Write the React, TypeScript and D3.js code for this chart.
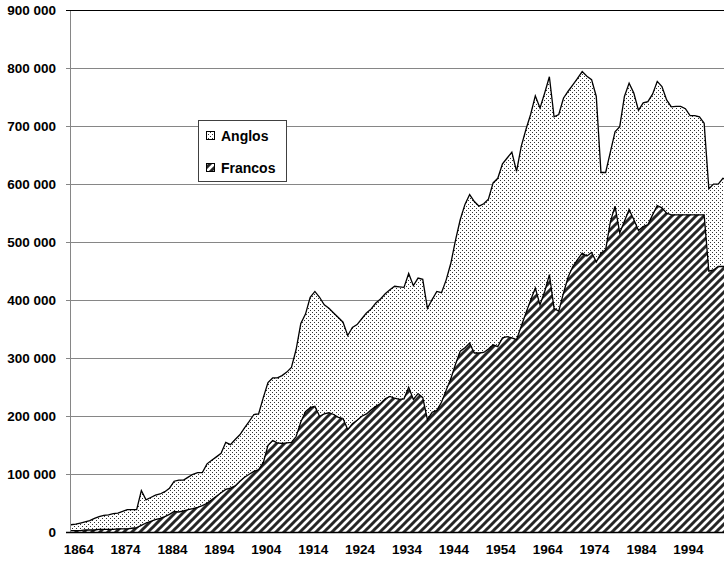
import React, { useEffect, useRef } from "react";
import * as d3 from "d3";

// first year of the series, one value per year after it
const firstYear = 1863;

// top line (thousands)
const anglos = [
  13, 14, 16, 18, 20, 24, 27, 29, 30, 32,
  33, 36, 39, 39, 39, 72, 56, 60, 64, 66,
  70, 76, 88, 90, 90, 95, 100, 103, 103, 118,
  124, 130, 136, 155, 151, 160, 168, 180, 191, 203,
  204, 232, 258, 266, 266, 270, 276, 284, 315, 360,
  376, 405, 415, 405, 392, 386, 378, 370, 362, 339,
  353, 358, 368, 378, 385, 395, 402, 411, 418, 424,
  423, 422, 446, 425, 438, 436, 386, 401, 415, 413,
  435, 464, 504, 539, 565, 582, 570, 562, 566, 574,
  602, 610, 635, 645, 655, 622, 665, 694, 720, 752,
  731, 757, 785, 716, 720, 748, 760, 771, 782, 794,
  786, 780, 751, 620, 620, 655, 690, 699, 751, 774,
  757, 727, 740, 742, 755, 777, 768, 745, 733, 734,
  734, 730, 718, 718, 716, 705, 592, 600, 600, 610,
  607,
];

// lower area (thousands)
const francos = [
  3, 3, 3, 4, 4, 4, 5, 5, 5, 5,
  6, 6, 6, 7, 8, 12, 16, 19, 22, 24,
  27, 31, 36, 35, 37, 39, 41, 43, 46, 50,
  56, 62, 68, 74, 76, 80, 88, 95, 100, 105,
  108, 120, 150, 158, 154, 153, 154, 155, 165, 190,
  208, 215, 217, 200, 204, 206, 203, 198, 196, 177,
  187, 193, 200, 204, 211, 217, 222, 230, 234, 231,
  229, 230, 250, 229, 239, 232, 194, 207, 210, 224,
  245, 265, 290, 312, 318, 326, 309, 309, 310, 316,
  323, 320, 335, 337, 335, 332, 355, 378, 400, 421,
  392, 415, 444, 386, 381, 412, 440, 458, 470, 481,
  476, 482, 466, 481, 487, 535, 562, 516, 536, 556,
  539, 520, 527, 530, 547, 563, 559, 550, 547, 547,
  547, 547, 547, 547, 547, 547, 450, 452, 458, 458,
  458,
];

const xTickYears = [1864, 1874, 1884, 1894, 1904, 1914, 1924, 1934, 1944, 1954, 1964, 1974, 1984, 1994];
const yTicks = [0, 100000, 200000, 300000, 400000, 500000, 600000, 700000, 800000, 900000];
const legendItems = ["Anglos", "Francos"];

const App = () => {
  const ref = useRef<SVGSVGElement>(null);

  useEffect(() => {
    const W = 724;
    const left = 71,
      top = 10,
      bottom = 532.3,
      pxPerYear = 4.69;

    const svg = d3.select(ref.current);
    svg.selectAll("*").remove();

    const lastYear = firstYear + anglos.length - 1;
    const x = d3
      .scaleLinear()
      .domain([firstYear, lastYear])
      .range([left, left + (lastYear - firstYear) * pxPerYear]);
    const y = d3.scaleLinear().domain([0, 900000]).range([bottom, top]);
    const crisp = (v: number) => Math.round(v) + 0.5;

    const defs = svg.append("defs");
    const dots = defs
      .append("pattern")
      .attr("id", "dots")
      .attr("patternUnits", "userSpaceOnUse")
      .attr("width", 4)
      .attr("height", 4);
    dots.append("rect").attr("width", 4).attr("height", 4).attr("fill", "#fff");
    dots.append("rect").attr("x", 0).attr("y", 0).attr("width", 1).attr("height", 1).attr("fill", "#333");
    dots.append("rect").attr("x", 2).attr("y", 2).attr("width", 1).attr("height", 1).attr("fill", "#333");

    const stripes = defs
      .append("pattern")
      .attr("id", "stripes")
      .attr("patternUnits", "userSpaceOnUse")
      .attr("width", 8)
      .attr("height", 8);
    stripes.append("rect").attr("width", 8).attr("height", 8).attr("fill", "#fff");
    stripes
      .append("path")
      .attr("d", "M-2,2 L2,-2 M0,8 L8,0 M6,10 L10,6")
      .attr("stroke", "#262626")
      .attr("stroke-width", 3);

    // gridlines
    svg
      .append("g")
      .selectAll("line")
      .data(yTicks.slice(1, -1))
      .join("line")
      .attr("x1", left - 5)
      .attr("x2", W)
      .attr("y1", (d) => crisp(y(d)))
      .attr("y2", (d) => crisp(y(d)))
      .attr("stroke", "#868686");

    const area = (vals: number[]) =>
      d3
        .area<number>()
        .x((d, i) => x(firstYear + i))
        .y0(y(0))
        .y1((d) => y(d * 1000))(vals);
    const line = (vals: number[]) =>
      d3
        .line<number>()
        .x((d, i) => x(firstYear + i))
        .y((d) => y(d * 1000))(vals);

    svg.append("path").attr("d", area(anglos)).attr("fill", "url(#dots)");
    svg.append("path").attr("d", line(anglos)).attr("fill", "none").attr("stroke", "#000").attr("stroke-width", 1.3);
    svg.append("path").attr("d", area(francos)).attr("fill", "url(#stripes)");
    svg.append("path").attr("d", line(francos)).attr("fill", "none").attr("stroke", "#000").attr("stroke-width", 1.3);

    // axes
    svg
      .append("line")
      .attr("x1", crisp(left - 1))
      .attr("x2", crisp(left - 1))
      .attr("y1", crisp(y(900000)))
      .attr("y2", bottom)
      .attr("stroke", "#868686");
    svg
      .append("line")
      .attr("x1", left - 5)
      .attr("x2", W)
      .attr("y1", crisp(y(900000)))
      .attr("y2", crisp(y(900000)))
      .attr("stroke", "#000")
      .attr("stroke-width", 1.2);
    svg
      .append("line")
      .attr("x1", left - 5)
      .attr("x2", W)
      .attr("y1", crisp(y(0)))
      .attr("y2", crisp(y(0)))
      .attr("stroke", "#000")
      .attr("stroke-width", 1.5);

    const fmt = (v: number) => d3.format(",")(v).replace(/,/g, " ");
    svg
      .append("g")
      .selectAll("text")
      .data(yTicks)
      .join("text")
      .attr("x", 56)
      .attr("y", (d) => y(d))
      .attr("dy", "0.35em")
      .attr("text-anchor", "end")
      .attr("font-family", "Liberation Sans, Arial, sans-serif")
      .attr("font-weight", "bold")
      .attr("font-size", 13.5)
      .text(fmt);

    svg
      .append("g")
      .selectAll("text")
      .data(xTickYears)
      .join("text")
      .attr("x", (d) => x(d) + 3)
      .attr("y", 554)
      .attr("text-anchor", "middle")
      .attr("font-family", "Liberation Sans, Arial, sans-serif")
      .attr("font-weight", "bold")
      .attr("font-size", 13.5)
      .text((d) => d);

    // legend
    const lg = svg.append("g").attr("transform", "translate(198,120)");
    lg.append("rect")
      .attr("x", 0.5)
      .attr("y", 0.5)
      .attr("width", 88)
      .attr("height", 61)
      .attr("fill", "#fff")
      .attr("stroke", "#404040");
    const item = lg
      .selectAll("g")
      .data(legendItems)
      .join("g")
      .attr("transform", (d, i) => `translate(0,${16 + i * 32})`);
    item
      .append("rect")
      .attr("x", 8.5)
      .attr("y", -4.5)
      .attr("width", 8)
      .attr("height", 8)
      .attr("fill", (d, i) => (i === 0 ? "url(#dots)" : "url(#stripes)"))
      .attr("stroke", "#000");
    item
      .append("text")
      .attr("x", 23)
      .attr("y", 0)
      .attr("dy", "0.35em")
      .attr("font-family", "Liberation Sans, Arial, sans-serif")
      .attr("font-weight", "bold")
      .attr("font-size", 14)
      .text((d) => d);
  }, []);

  return (
    <svg
      ref={ref}
      width={724}
      height={565}
      style={{ position: "absolute", left: 0, top: 0, background: "#fff" }}
    />
  );
};

export default App;
